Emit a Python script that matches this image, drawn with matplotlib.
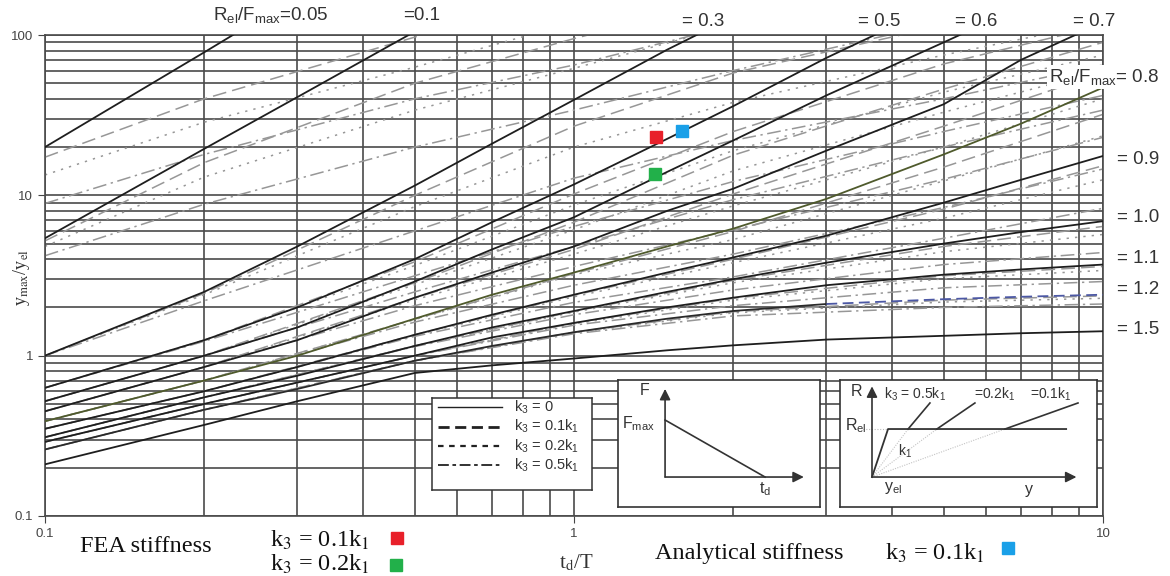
import numpy as np
import matplotlib

matplotlib.use('agg')
import matplotlib.pyplot as plt

nan = np.nan
plt.rcParams['font.family'] = ['Liberation Sans', 'DejaVu Sans']
plt.rcParams['mathtext.fontset'] = 'custom'
plt.rcParams['mathtext.rm'] = 'Liberation Sans'
plt.rcParams['mathtext.it'] = 'Liberation Sans:italic'

W, H = 1170, 576

# td/T sample points
x_solid = [0.1, 0.2, 0.3, 0.5, 0.7, 1, 1.5, 2, 3, 5, 7, 10]
x_gray = [0.1, 0.2, 0.5, 1, 2, 5, 10]

ratios = [0.05, 0.1, 0.3, 0.5, 0.6, 0.7, 0.8, 0.9, 1.0, 1.1, 1.2, 1.5]

# ymax/yel, k3 = 0 (one list per Rel/Fmax)
k0_005 = [20, 78, 175, nan, nan, nan, nan, nan, nan, nan, nan, nan]
k0_01 = [5.4, 19.5, 41, 105, nan, nan, nan, nan, nan, nan, nan, nan]
k0_03 = [1.0, 2.5, 4.8, 11.5, 21, 39.4, 81, 130, nan, nan, nan, nan]
k0_05 = [0.63, 1.25, 2.0, 4.0, 6.8, 11.7, 22.5, 36, 72, 160, nan, nan]
k0_06 = [0.52, 1.0, 1.5, 2.9, 4.6, 7.3, 14, 22, 42, 90, 150, nan]
k0_07 = [0.45, 0.85, 1.25, 2.3, 3.3, 4.8, 8.0, 11, 19, 37, 70, 120]
k0_08 = [0.39, 0.7, 1.0, 1.7, 2.4, 3.3, 4.8, 6.2, 9.5, 18, 28, 47]
k0_09 = [0.35, 0.6, 0.85, 1.35, 1.8, 2.4, 3.3, 4.1, 5.6, 9.0, 12.5, 17.6]
k0_10 = [0.31, 0.55, 0.75, 1.15, 1.5, 1.9, 2.5, 3.0, 3.8, 5.0, 5.9, 6.9]
k0_11 = [0.29, 0.5, 0.68, 1.0, 1.3, 1.6, 2.0, 2.3, 2.75, 3.2, 3.45, 3.7]
k0_12 = [0.26, 0.46, 0.62, 0.93, 1.15, 1.4, 1.7, 1.9, 2.1, 2.25, 2.33, 2.4]
k0_15 = [0.21, 0.37, 0.52, 0.78, 0.87, 0.96, 1.08, 1.16, 1.26, 1.33, 1.38, 1.42]

# k3 = 0.1 k1
k1_005 = [17.3, 40, 97, 200, nan, nan, nan]
k1_01 = [5.2, 16, 50, 95, 170, nan, nan]
k1_03 = [1.0, 2.45, 10, 27, 58, 115, nan]
k1_05 = [0.63, 1.25, 3.85, 10.2, 25, 66, 115]
k1_06 = [0.52, 1.0, 2.85, 6.8, 17.8, 46, 90]
k1_07 = [0.45, 0.85, 2.29, 4.6, 10.2, 27, 58]
k1_08 = [0.39, 0.7, 1.69, 3.25, 5.95, 15, 32]
k1_09 = [0.35, 0.6, 1.35, 2.38, 4.0, 8.2, 15.3]
k1_10 = [0.31, 0.55, 1.15, 1.89, 2.95, 4.8, 6.4]
k1_11 = [0.29, 0.5, 1.0, 1.6, 2.28, 3.15, 3.6]
k1_12 = [0.26, 0.46, 0.93, 1.4, 1.88, 2.22, 2.36]

# k3 = 0.2 k1
k2_005 = [13.4, 28.6, 63, 120, nan, nan, nan]
k2_01 = [4.8, 13, 34, 62, 115, nan, nan]
k2_03 = [1.0, 2.4, 8.5, 20, 38, 75, 120]
k2_05 = [0.63, 1.24, 3.65, 8.7, 19, 44, 75]
k2_06 = [0.52, 1.0, 2.77, 6.1, 14.2, 33, 60]
k2_07 = [0.45, 0.85, 2.23, 4.3, 8.6, 20, 40]
k2_08 = [0.39, 0.7, 1.68, 3.2, 5.3, 12.3, 23.5]
k2_09 = [0.35, 0.6, 1.34, 2.33, 3.8, 7.2, 12.5]
k2_10 = [0.31, 0.55, 1.15, 1.87, 2.85, 4.45, 5.7]
k2_11 = [0.29, 0.5, 1.0, 1.58, 2.22, 3.02, 3.4]
k2_12 = [0.26, 0.46, 0.93, 1.39, 1.85, 2.16, 2.28]

# k3 = 0.5 k1
k5_005 = [8.9, 18, 40, 65, 115, nan, nan]
k5_01 = [4.2, 8.8, 20, 34, 60, 120, nan]
k5_03 = [1.0, 2.2, 6.0, 12.8, 22, 40, 65]
k5_05 = [0.63, 1.23, 3.15, 6.4, 12.2, 25, 42]
k5_06 = [0.52, 1.0, 2.5, 4.8, 9.4, 20, 34]
k5_07 = [0.45, 0.85, 2.05, 3.6, 6.1, 12.6, 23]
k5_08 = [0.39, 0.7, 1.62, 2.75, 4.3, 8.4, 14.6]
k5_09 = [0.35, 0.6, 1.32, 2.15, 3.1, 5.4, 8.3]
k5_10 = [0.31, 0.55, 1.14, 1.8, 2.57, 3.7, 4.4]
k5_11 = [0.29, 0.5, 1.0, 1.55, 2.05, 2.65, 2.9]
k5_12 = [0.26, 0.46, 0.93, 1.37, 1.77, 2.0, 2.1]

k0 = [k0_005, k0_01, k0_03, k0_05, k0_06, k0_07, k0_08, k0_09, k0_10, k0_11, k0_12, k0_15]
k1 = [k1_005, k1_01, k1_03, k1_05, k1_06, k1_07, k1_08, k1_09, k1_10, k1_11, k1_12]
k2 = [k2_005, k2_01, k2_03, k2_05, k2_06, k2_07, k2_08, k2_09, k2_10, k2_11, k2_12]
k5 = [k5_005, k5_01, k5_03, k5_05, k5_06, k5_07, k5_08, k5_09, k5_10, k5_11, k5_12]

# test points (td/T, ymax/yel)
fea_01 = (1.43, 23)
fea_02 = (1.42, 13.5)
ana_01 = (1.60, 25.1)

legend_labels = ['k$_3$ = 0', 'k$_3$ = 0.1k$_1$', 'k$_3$ = 0.2k$_1$', 'k$_3$ = 0.5k$_1$']

ls_long = (0, (9, 4))
ls_dot = (0, (1.5, 4))
ls_dd = (0, (9, 3, 1.5, 3))


def fx(px):
    return px / W


def fy(py):
    return 1 - py / H


fig = plt.figure(figsize=(W / 100, H / 100), dpi=100)
ax = fig.add_axes([fx(45), fy(516), (1103 - 45) / W, (516 - 35) / H])
ax.set_xscale('log')
ax.set_yscale('log')
ax.set_xlim(0.1, 10)
ax.set_ylim(0.1, 100)
ax.set_axisbelow(True)
ax.grid(True, which='both', color='#4a4a4a', lw=1.2)
for s in ax.spines.values():
    s.set_color('#4a4a4a')
    s.set_linewidth(1.2)
ax.set_xticks([0.1, 1, 10])
ax.set_xticklabels(['0.1', '1', '10'])
ax.set_yticks([0.1, 1, 10, 100])
ax.set_yticklabels(['0.1', '1', '10', '100'])
ax.tick_params(which='major', length=5, color='#444444', labelsize=9.5, labelcolor='#444444')
ax.tick_params(which='minor', length=0)

gray = '#979797'
for vals in k1:
    ax.plot(x_gray, vals, color=gray, lw=1.1, ls=ls_long, zorder=2)
for vals in k2:
    ax.plot(x_gray, vals, color=gray, lw=1.1, ls=ls_dot, zorder=2)
for vals in k5:
    ax.plot(x_gray, vals, color=gray, lw=1.1, ls=ls_dd, zorder=2)

for r, vals in zip(ratios, k0):
    if r == 0.8:
        ax.plot(x_solid, vals, color='#4f5a2c', lw=1.3, zorder=3)
    elif r == 1.2:
        xs = np.array(x_solid)
        v = np.array(vals)
        ax.plot(xs[xs <= 3], v[xs <= 3], color='#2a2a2a', lw=1.3, zorder=3)
        ax.plot(xs[xs >= 3], v[xs >= 3], color='#4c58a4', lw=1.3, ls=(0, (6, 3)), zorder=3)
    else:
        ax.plot(x_solid, vals, color='#1e1e1e', lw=1.3, zorder=3)

ms = 8.5
ax.plot(*fea_01, 's', color='#e8202a', ms=ms, zorder=5)
ax.plot(*fea_02, 's', color='#22b04a', ms=ms, zorder=5)
ax.plot(*ana_01, 's', color='#1aa0e8', ms=ms, zorder=5)

# legend box
leg = fig.add_axes([fx(432), fy(490), 160 / W, 92 / H], zorder=5)
leg.set_xlim(0, 1)
leg.set_ylim(0, 1)
leg.set_xticks([])
leg.set_yticks([])
for s in leg.spines.values():
    s.set_linewidth(1.1)
    s.set_color('#333333')
leg_styles = [('-', 1.0), ((0, (4, 2)), 2.0), ((0, (2.5, 2.5)), 1.6), ((0, (6, 2, 2, 2)), 1.3)]
for i, (lab, (lst, lw)) in enumerate(zip(legend_labels, leg_styles)):
    yy = 0.9 - 0.21 * i
    leg.plot([0.04, 0.44], [yy, yy], color='#222222', lw=lw, ls=lst)
    leg.text(0.515, yy, lab, fontsize=10.5, color='#333333', va='center', ha='left')

# labels of the curves
lab = dict(fontsize=13.5, color='#333333', va='center')
fig.text(fx(213), fy(15), r'R$_{\mathrm{el}}$/F$_{\mathrm{max}}$=0.05', ha='left', **lab)
fig.text(fx(403), fy(15), '=0.1', ha='left', **lab)
fig.text(fx(682), fy(22), '= 0.3', ha='left', **lab)
fig.text(fx(858), fy(22), '= 0.5', ha='left', **lab)
fig.text(fx(955), fy(22), '= 0.6', ha='left', **lab)
fig.text(fx(1073), fy(22), '= 0.7', ha='left', **lab)
fig.text(fx(1049), fy(77), r'R$_{\mathrm{el}}$/F$_{\mathrm{max}}$= 0.8', ha='left',
         bbox=dict(facecolor='white', edgecolor='none', pad=1.5), zorder=6, **lab)
for py, s in [(160, '= 0.9'), (217, '= 1.0'), (258, '= 1.1'), (290, '= 1.2'), (330, '= 1.5')]:
    fig.text(fx(1117), fy(py), s, ha='left', **lab)

serif = ['Liberation Serif', 'DejaVu Serif']
fig.text(fx(22), fy(278), r'y$_{\mathrm{max}}$/y$_{\mathrm{el}}$', rotation=90, ha='center', va='center',
         family=serif, math_fontfamily='stix', fontsize=13, color='#333333')
fig.text(fx(576), fy(563), r't$_{\mathrm{d}}$/T', ha='center', va='center',
         family=serif, math_fontfamily='stix', fontsize=15, color='#333333')

big = dict(family=serif, math_fontfamily='stix', fontsize=17.5, color='#111111', va='center')
fig.text(fx(80), fy(546), 'FEA stiffness', ha='left', **big)
fig.text(fx(270), fy(540), r'k$_3$ = 0.1k$_1$', ha='left', **big)
fig.text(fx(270), fy(564), r'k$_3$ = 0.2k$_1$', ha='left', **big)
fig.text(fx(655), fy(553), 'Analytical stiffness', ha='left', **big)
fig.text(fx(885), fy(553), r'k$_3$ = 0.1k$_1$', ha='left', **big)
ax.plot([fx(397)], [fy(538)], 's', color='#e8202a', ms=ms, transform=fig.transFigure, clip_on=False)
ax.plot([fx(396)], [fy(565)], 's', color='#22b04a', ms=ms, transform=fig.transFigure, clip_on=False)
ax.plot([fx(1008)], [fy(548)], 's', color='#1aa0e8', ms=ms, transform=fig.transFigure, clip_on=False)

# inset: load history
load_t = [0.233, 0.728]
load_f = [0.685, 0.236]
ins1 = fig.add_axes([fx(618), fy(507), 202 / W, 127 / H], zorder=5)
ins1.set_xlim(0, 1)
ins1.set_ylim(0, 1)
ins1.set_xticks([])
ins1.set_yticks([])
for s in ins1.spines.values():
    s.set_linewidth(1.2)
    s.set_color('#333333')
arr = dict(arrowstyle='-|>', color='#333333', lw=1.2, mutation_scale=16, shrinkA=0, shrinkB=0)
ins1.annotate('', xy=(0.233, 0.93), xytext=(0.233, 0.236), arrowprops=arr)
ins1.annotate('', xy=(0.92, 0.236), xytext=(0.233, 0.236), arrowprops=arr)
ins1.plot(load_t, load_f, color='#333333', lw=1.2)
small = dict(fontsize=11.5, color='#333333', va='center')
ins1.text(0.11, 0.92, 'F', ha='left', **small)
ins1.text(0.02, 0.66, r'F$_{\mathrm{max}}$', ha='left', **small)
ins1.text(0.70, 0.14, r't$_{\mathrm{d}}$', ha='left', **small)

# inset: resistance function
ry_el = [0.1245, 0.187, 0.88]
rr_el = [0.236, 0.614, 0.614]
hard_x0 = [0.265, 0.377, 0.642]
hard_x1 = [0.35, 0.525, 0.926]
ins2 = fig.add_axes([fx(840), fy(507), 257 / W, 127 / H], zorder=5)
ins2.set_xlim(0, 1)
ins2.set_ylim(0, 1)
ins2.set_xticks([])
ins2.set_yticks([])
for s in ins2.spines.values():
    s.set_linewidth(1.2)
    s.set_color('#333333')
ins2.annotate('', xy=(0.1245, 0.95), xytext=(0.1245, 0.236), arrowprops=arr)
ins2.annotate('', xy=(0.92, 0.236), xytext=(0.1245, 0.236), arrowprops=arr)
ins2.plot([0.09, 0.187], [0.614, 0.614], color='#bbbbbb', lw=0.8, ls=(0, (1, 1.5)))
for a, b in zip(hard_x0, hard_x1):
    ins2.plot([0.1245, a], [0.236, 0.614], color='#c4c4c4', lw=0.8, ls=(0, (1, 1.2)))
    ins2.plot([a, b], [0.614, 0.819], color='#333333', lw=1.2)
ins2.plot(ry_el, rr_el, color='#333333', lw=1.3)
ins2.text(0.04, 0.91, 'R', ha='left', **small)
ins2.text(0.02, 0.64, r'R$_{\mathrm{el}}$', ha='left', **small)
hk = dict(fontsize=10, color='#333333', va='center', ha='left')
ins2.text(0.17, 0.885, r'k$_3$ = 0.5k$_1$', **hk)
ins2.text(0.52, 0.885, r'=0.2k$_1$', **hk)
ins2.text(0.74, 0.885, r'=0.1k$_1$', **hk)
ins2.text(0.225, 0.44, r'k$_1$', **hk)
ins2.text(0.17, 0.15, r'y$_{\mathrm{el}}$', ha='left', **small)
ins2.text(0.72, 0.14, 'y', ha='left', **small)

fig.savefig('out.png', dpi=100, facecolor='white')
